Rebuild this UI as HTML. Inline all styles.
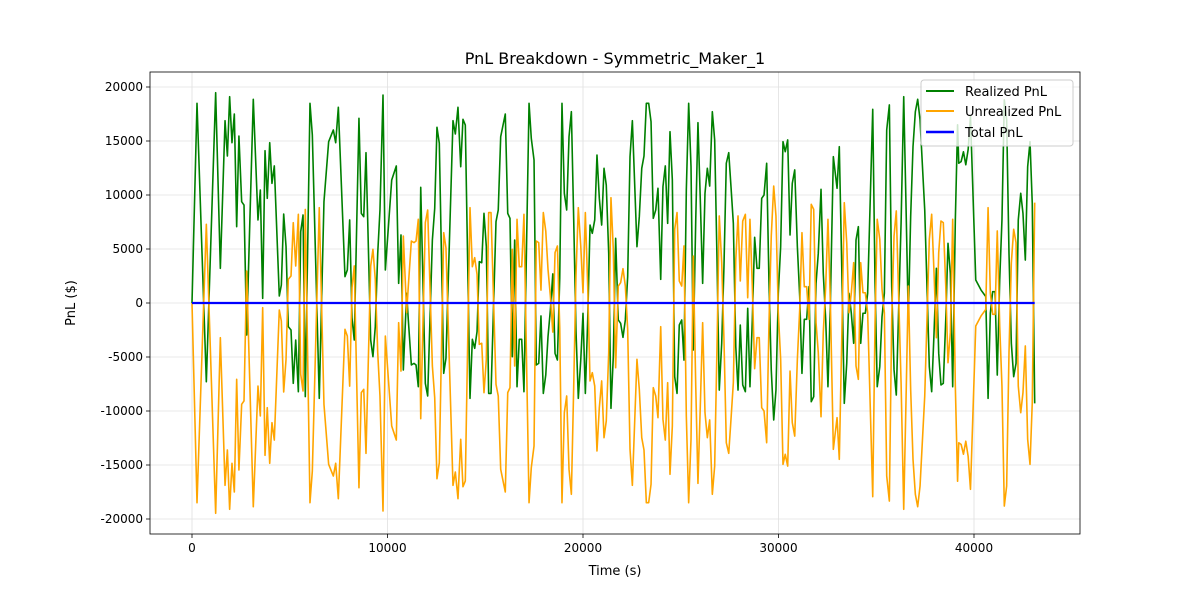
<!DOCTYPE html>
<html><head><meta charset="utf-8"><style>
body{margin:0;background:#fff;font-family:"Liberation Sans",sans-serif}
svg text{font-family:"DejaVu Sans","Liberation Sans",sans-serif;fill:#000}
</style></head><body>
<svg id="c" width="1200" height="600" viewBox="0 0 1200 600"></svg>
<script>
const times=[0,256,733,1210,1450,1690,1810,1925,2045,2165,2285,2400,2540,2660,2795,3135,3375,3495,3615,3735,3850,3975,4090,4210,4465,4570,4690,4810,4925,5065,5180,5305,5440,5560,5680,5795,6035,6155,6510,6750,6990,7230,7350,7485,7825,7945,8065,8185,8300,8540,8660,8785,8900,9140,9255,9375,9500,9615,9770,9890,10215,10450,10570,10690,10810,10980,11065,11220,11355,11460,11575,11700,11935,12055,12295,12415,12530,12650,12875,12990,13350,13470,13605,13745,13860,13980,14220,14340,14460,14580,14695,14820,14935,15055,15175,15295,15550,15665,15790,16025,16150,16265,16385,16505,16625,16740,16865,16980,17240,17355,17495,17610,17735,17850,17970,18095,18210,18330,18455,18570,18690,18810,18925,19045,19165,19285,19405,19525,19640,19760,19885,20000,20120,20240,20360,20475,20600,20715,20835,20955,21075,21190,21315,21430,21550,21670,21805,21925,22045,22165,22285,22405,22525,22760,22880,23005,23120,23240,23360,23480,23595,23720,23835,23975,24090,24210,24330,24450,24570,24690,24810,24925,25050,25165,25285,25405,25525,25640,25765,25880,26000,26120,26240,26360,26480,26615,26735,26855,26970,27095,27210,27330,27455,27570,27690,27815,27930,28045,28170,28305,28425,28540,28660,28780,28900,29015,29140,29260,29395,29510,29630,29755,29870,29990,30110,30230,30345,30470,30590,30705,30830,30965,31085,31200,31320,31440,31560,31675,31800,31920,32035,32175,32290,32415,32530,32650,32805,32995,33110,33235,33365,33490,33605,33725,33845,33965,34085,34205,34320,34440,34560,34820,34935,35050,35180,35295,35415,35535,35670,35790,35910,36025,36150,36270,36405,36520,36640,36760,36880,37000,37120,37240,37480,37715,37835,37955,38075,38195,38310,38430,38555,38670,38790,38910,39045,39160,39220,39340,39460,39580,39700,39820,40090,40360,40600,40720,40835,40955,41075,41190,41315,41430,41550,41670,41790,41910,42030,42150,42265,42390,42505,42625,42745,42865,42980,43105,43260];
const realized=[0,18490,-7290,19470,3210,16880,13610,19100,14840,17500,7070,15460,9380,9070,-2960,18860,7690,10460,430,14100,9690,14840,11080,12690,650,1670,8240,5210,-2190,-2500,-7440,-3430,-8210,6600,8150,-8670,18490,15560,-8830,9380,14940,16020,14840,18120,2440,3060,7690,-1420,-3430,17100,8300,7990,13920,-3430,-4970,-2190,4600,8610,19260,3060,11390,12690,1820,6300,-6200,900,-1570,-5740,-5590,-5740,-7750,10710,-7440,-8610,5830,8770,16270,14790,-6510,-5120,16880,15650,18120,12620,17010,16480,-8830,-3360,-4200,-2650,3830,3730,8300,5210,-8370,-8370,7530,8610,15400,17500,8300,7840,-4970,5830,-7750,-3360,-3360,-8210,18490,15250,13240,-5740,-5590,-1200,-8370,-6670,-3120,-650,2690,-4660,-5280,2290,18490,10160,8610,15400,17710,7690,-2500,-8830,-5280,-950,-8370,-1570,7220,6450,7690,13700,9690,7220,12470,10930,4600,-9750,-4970,5990,-1570,-1880,-3180,-1570,2440,13550,16880,5210,7990,12470,13610,18490,18490,16790,7840,8610,10620,2190,10770,12690,7380,15860,11390,-6820,-8370,-2040,-1570,-5280,10460,18490,12620,-4350,7530,16700,9540,1820,10160,12470,10830,17710,15100,3980,-8060,-3730,3360,12940,13920,10770,7380,-4040,-8060,-2040,-7590,-8210,-490,-7750,-1570,6080,3210,3210,9690,10000,12940,2130,-6200,-10830,-8060,900,5210,14940,14010,15100,6300,11080,12320,5210,580,-6510,-1510,-1510,1510,-9140,-8670,1820,4600,10530,2750,-1570,-7750,-340,13550,10620,14470,3360,-9290,-5590,900,-950,-3730,5830,7070,-3730,-950,-950,900,17930,2130,-7750,-5900,-1270,900,16020,18340,1510,-6200,-8520,-340,7380,19100,9230,-1570,7990,14470,17710,18860,16950,8610,-5900,-8210,-2810,3210,-4660,-7590,-7440,-1570,5530,2750,-7750,7690,16500,12940,13090,14000,12800,14200,17250,2130,1200,600,-8830,-950,1050,1050,-6670,2130,7690,18800,16950,4600,-3730,-6820,-5590,7690,10160,8300,3980,12620,14940,9230,-9290];
const unrealized=realized.map(v=>-v);
const total=realized.map((v,i)=>v+unrealized[i]);
const xTicks=[0,10000,20000,30000,40000];
const yTicks=[-20000,-15000,-10000,-5000,0,5000,10000,15000,20000];

const NS="http://www.w3.org/2000/svg",svg=document.getElementById('c');
const L=150,R=1080,T=72,B=534;
const X=t=>192+t*0.01955, Y=v=>303-v*0.0108;
function mk(tag,attrs,parent){const e=document.createElementNS(NS,tag);for(const k in attrs)e.setAttribute(k,attrs[k]);(parent||svg).appendChild(e);return e;}
const grid=mk('g',{});


xTicks.forEach(t=>{
  const l=mk('line',{x1:X(t),x2:X(t),y1:T,y2:B,stroke:'#e0e0e0','stroke-width':0.8},grid);
  
  
  const k=mk('line',{x1:X(t),x2:X(t),y1:B,y2:B+4,stroke:'#000','stroke-width':0.8});
  
  
  const tx=mk('text',{x:X(t),y:B+18,'text-anchor':'middle','font-size':12});
  tx.textContent=t;
  
  
});
yTicks.forEach(v=>{
  const l=mk('line',{x1:L,x2:R,y1:Y(v),y2:Y(v),stroke:'#e0e0e0','stroke-width':0.8},grid);
  
  
  const k=mk('line',{x1:L-4,x2:L,y1:Y(v),y2:Y(v),stroke:'#000','stroke-width':0.8});
  
  
  const tx=mk('text',{x:L-7,y:Y(v)+4,'text-anchor':'end','font-size':12});
  tx.textContent=v;
  
  
});
function series(vals,color,w,name){
  const p=mk('polyline',{points:vals.map((v,i)=>X(times[i])+','+Y(v)).join(' '),fill:'none',stroke:color,'stroke-width':w,'stroke-linejoin':'round'});
  
  
}
series(realized,'#008000',1.6,'realized-pnl-line');
series(unrealized,'#ffa500',1.6,'unrealized-pnl-line');
series(total,'#0000ff',2.2,'total-pnl-line');
const frame=mk('rect',{x:L,y:T,width:R-L,height:B-T,fill:'none',stroke:'#000','stroke-width':0.8});


</script>
<svg width="1200" height="600" style="position:absolute;left:0;top:0">
<text x="615" y="64" text-anchor="middle" font-size="16">PnL Breakdown - Symmetric_Maker_1</text>
<text x="615" y="575" text-anchor="middle" font-size="13">Time (s)</text>
<text x="75" y="303" text-anchor="middle" font-size="13" transform="rotate(-90 75 303)">PnL ($)</text>
<g>
<rect x="921" y="80" width="152" height="66" rx="3" fill="#fff" fill-opacity="0.8" stroke="#ccc"/>
<g><line x1="926" x2="954" y1="91" y2="91" stroke="#008000" stroke-width="2"/><text x="965" y="96" font-size="13">Realized PnL</text></g>
<g><line x1="926" x2="954" y1="111" y2="111" stroke="#ffa500" stroke-width="2"/><text x="965" y="116" font-size="13">Unrealized PnL</text></g>
<g><line x1="926" x2="954" y1="132" y2="132" stroke="#0000ff" stroke-width="2.4"/><text x="965" y="137" font-size="13">Total PnL</text></g>
</g>
</svg>
</body></html>
